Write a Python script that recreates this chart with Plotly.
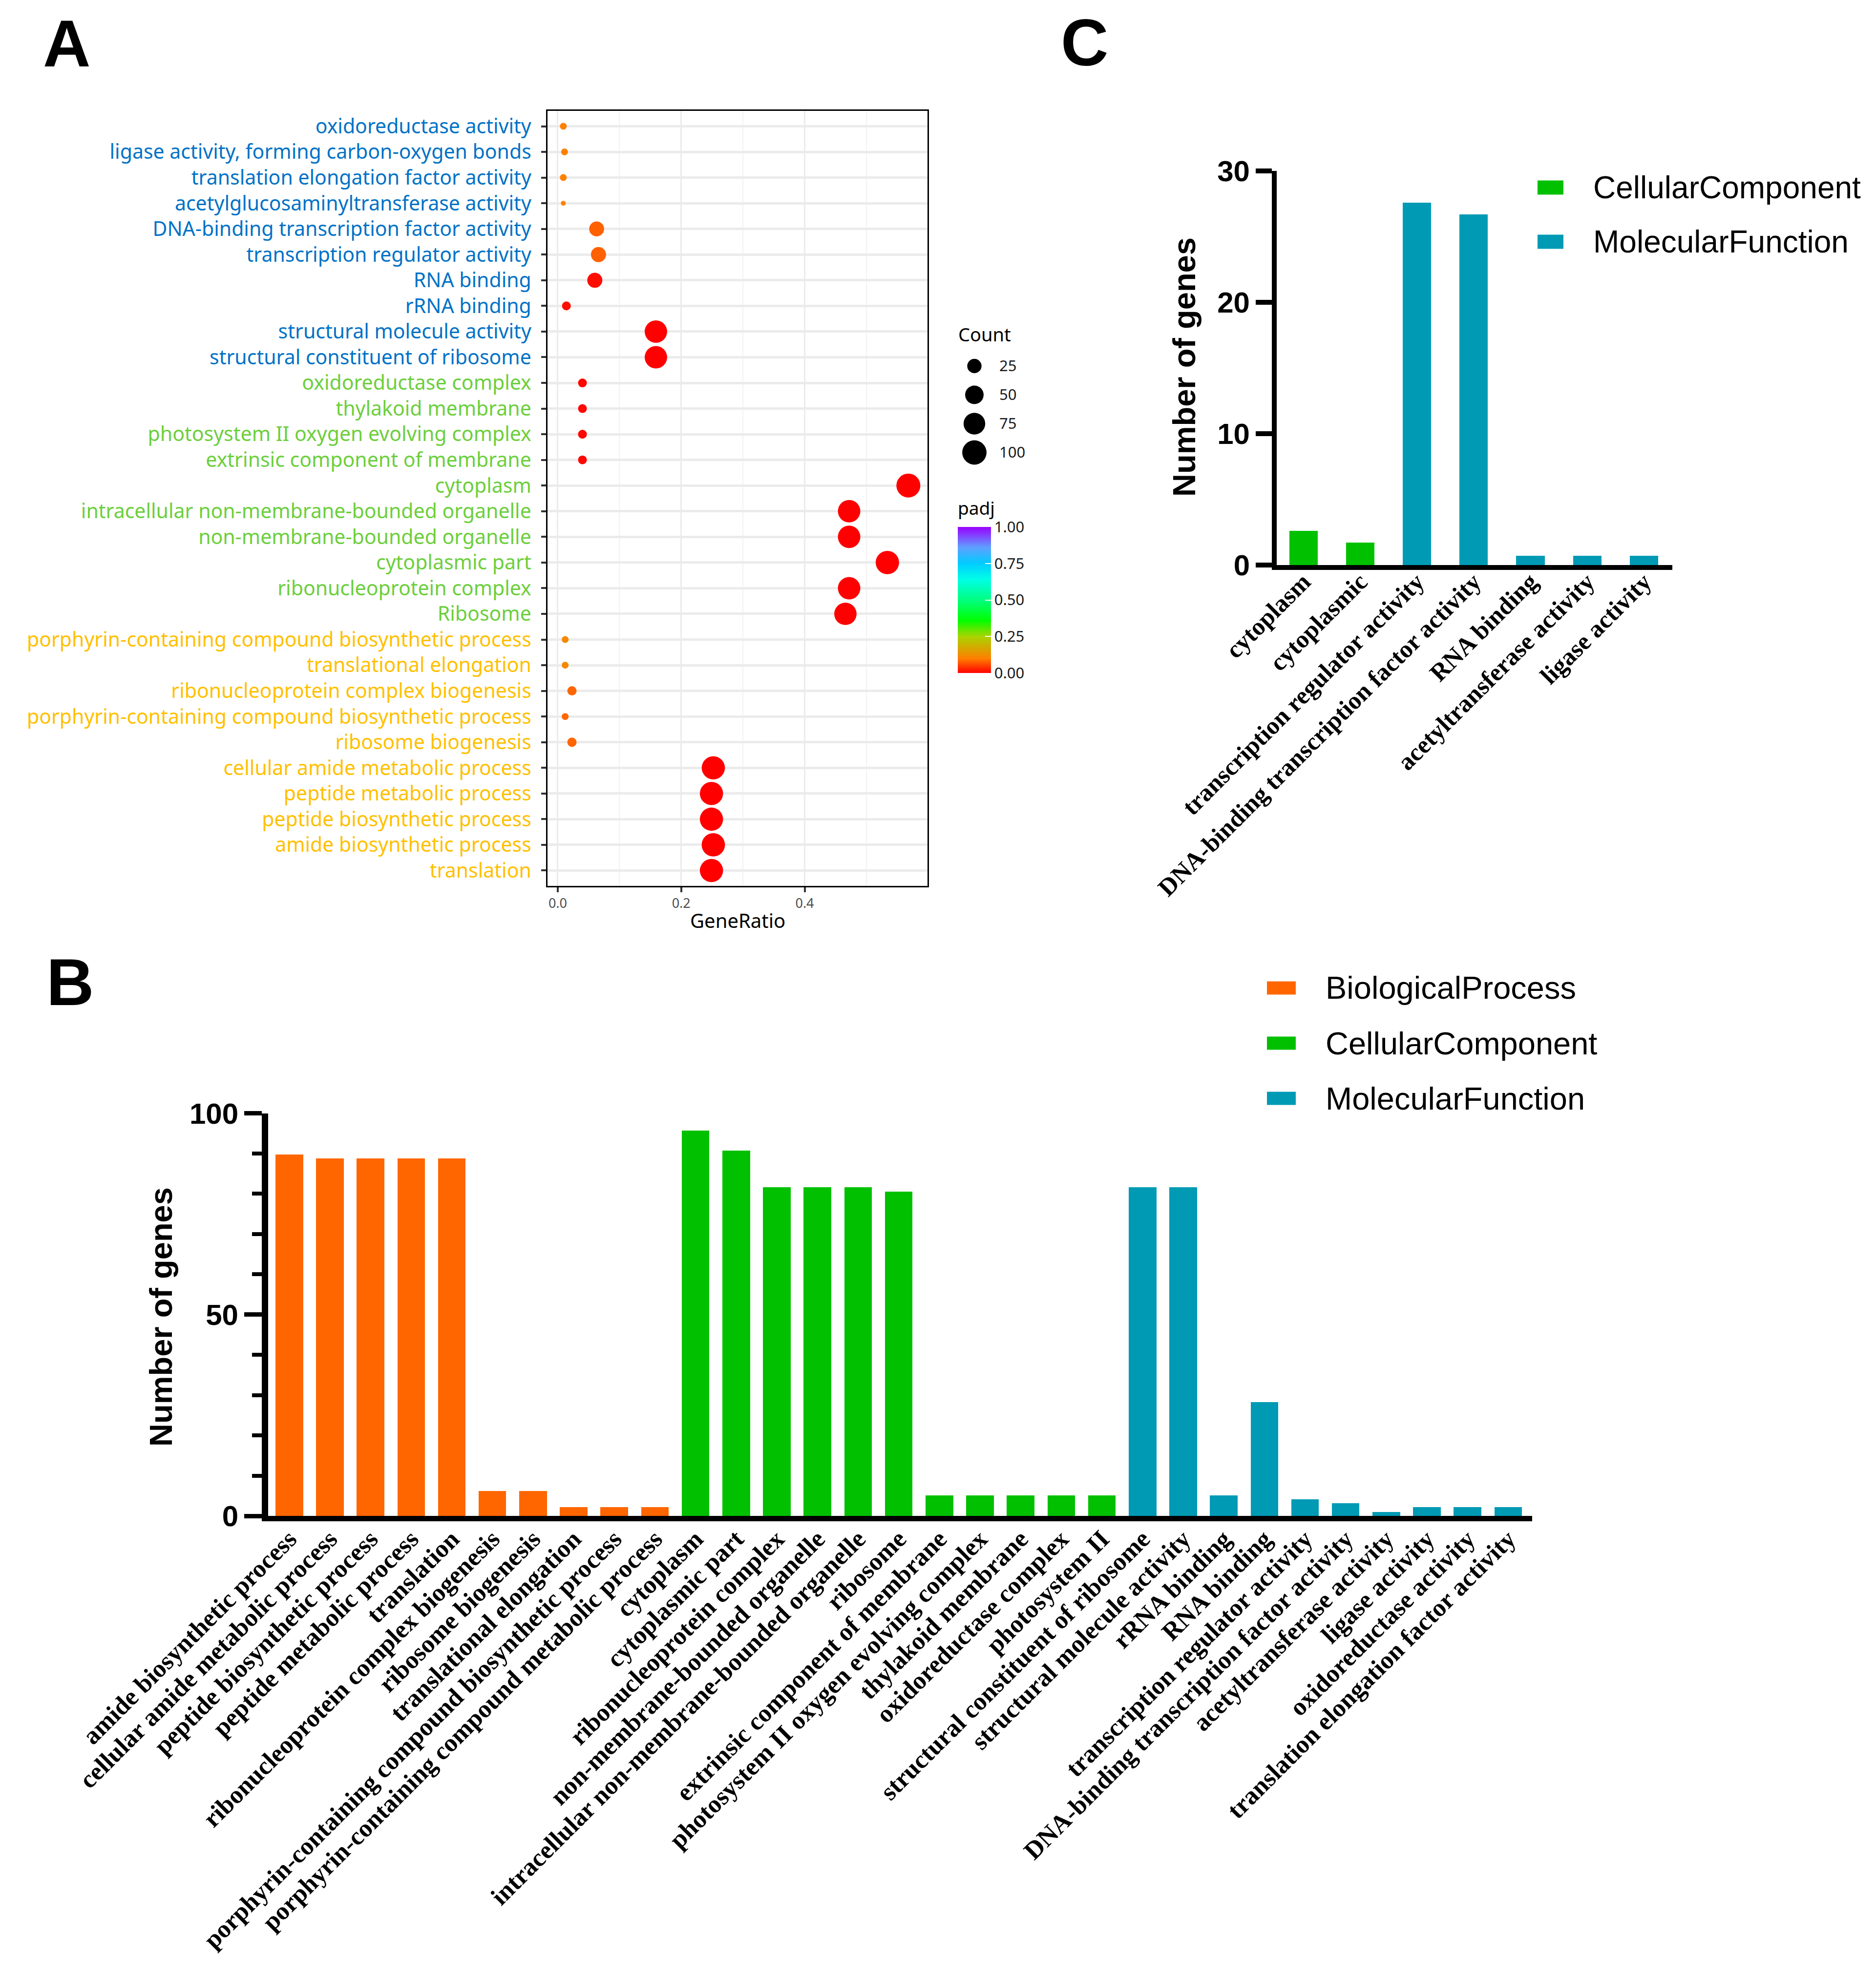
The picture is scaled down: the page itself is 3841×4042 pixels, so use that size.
import math
import plotly.graph_objects as go

W, H = 3841, 4042


def fx(px):
    return px / W


def fy(py):
    return 1 - py / H


# ---------------- Panel A : dot plot ----------------
a_terms = [
    "oxidoreductase activity",
    "ligase activity, forming carbon-oxygen bonds",
    "translation elongation factor activity",
    "acetylglucosaminyltransferase activity",
    "DNA-binding transcription factor activity",
    "transcription regulator activity",
    "RNA binding",
    "rRNA binding",
    "structural molecule activity",
    "structural constituent of ribosome",
    "oxidoreductase complex",
    "thylakoid membrane",
    "photosystem II oxygen evolving complex",
    "extrinsic component of membrane",
    "cytoplasm",
    "intracellular non-membrane-bounded organelle",
    "non-membrane-bounded organelle",
    "cytoplasmic part",
    "ribonucleoprotein complex",
    "Ribosome",
    "porphyrin-containing compound biosynthetic process",
    "translational elongation",
    "ribonucleoprotein complex biogenesis",
    "porphyrin-containing compound biosynthetic process",
    "ribosome biogenesis",
    "cellular amide metabolic process",
    "peptide metabolic process",
    "peptide biosynthetic process",
    "amide biosynthetic process",
    "translation",
]
a_ontology = ["MF"] * 10 + ["CC"] * 10 + ["BP"] * 10
a_gene_ratio = [0.009, 0.011, 0.009, 0.009, 0.063, 0.066, 0.060, 0.014, 0.159, 0.159,
                0.040, 0.040, 0.040, 0.040, 0.568, 0.472, 0.472, 0.534, 0.472, 0.466,
                0.012, 0.012, 0.023, 0.012, 0.023, 0.252, 0.249, 0.249, 0.252, 0.249]
a_count = [3, 3, 3, 2, 28, 29, 29, 6, 82, 82,
           6, 6, 6, 6, 96, 82, 82, 91, 82, 81,
           3, 3, 7, 3, 7, 89, 89, 89, 90, 89]
a_padj = [0.10, 0.10, 0.10, 0.10, 0.075, 0.075, 0.01, 0.01, 0.0, 0.0,
          0.005, 0.005, 0.005, 0.005, 0.0, 0.0, 0.0, 0.0, 0.0, 0.0,
          0.115, 0.115, 0.08, 0.08, 0.08, 0.0, 0.0, 0.0, 0.0, 0.0]
a_label_colors = {"MF": "#0072c6", "CC": "#6ccf3c", "BP": "#ffc000"}
count_legend = [25, 50, 75, 100]
padj_ticks = [0.0, 0.25, 0.5, 0.75, 1.0]
ratio_ticks = [0.0, 0.2, 0.4]

# ---------------- Panel B : all terms ----------------
b_terms = [
    "amide biosynthetic process",
    "cellular amide metabolic process",
    "peptide biosynthetic process",
    "peptide metabolic process",
    "translation",
    "ribonucleoprotein complex biogenesis",
    "ribosome biogenesis",
    "translational elongation",
    "porphyrin-containing compound biosynthetic process",
    "porphyrin-containing compound metabolic process",
    "cytoplasm",
    "cytoplasmic part",
    "ribonucleoprotein complex",
    "non-membrane-bounded organelle",
    "intracellular non-membrane-bounded organelle",
    "ribosome",
    "extrinsic component of membrane",
    "photosystem II oxygen evolving complex",
    "thylakoid membrane",
    "oxidoreductase complex",
    "photosystem II",
    "structural constituent of ribosome",
    "structural molecule activity",
    "rRNA binding",
    "RNA binding",
    "transcription regulator activity",
    "DNA-binding transcription factor activity",
    "acetyltransferase activity",
    "ligase activity",
    "oxidoreductase activity",
    "translation elongation factor activity",
]
b_ontology = (["BiologicalProcess"] * 10 + ["CellularComponent"] * 11
              + ["MolecularFunction"] * 10)
b_genes = [89.8, 88.8, 88.8, 88.8, 88.8, 6.3, 6.3, 2.2, 2.2, 2.2,
           95.8, 90.8, 81.7, 81.7, 81.7, 80.6, 5.2, 5.2, 5.2, 5.2, 5.2,
           81.7, 81.7, 5.2, 28.3, 4.2, 3.2, 1.0, 2.2, 2.2, 2.2]
b_ticks = [0, 50, 100]

# ---------------- Panel C ----------------
c_terms = [
    "cytoplasm",
    "cytoplasmic",
    "transcription regulator activity",
    "DNA-binding transcription factor activity",
    "RNA binding",
    "acetyltransferase activity",
    "ligase activity",
]
c_ontology = ["CellularComponent"] * 2 + ["MolecularFunction"] * 5
c_genes = [2.6, 1.7, 27.6, 26.7, 0.7, 0.7, 0.7]
c_ticks = [0, 10, 20, 30]

onto_colors = {
    "BiologicalProcess": "#ff6600",
    "CellularComponent": "#00c000",
    "MolecularFunction": "#009ab5",
}

padj_scale = [
    [0.0, "#ff0000"], [0.1, "#ff8000"], [0.25, "#a8d400"], [0.36, "#00ff00"],
    [0.5, "#00ff80"], [0.64, "#00ffe6"], [0.75, "#00ccff"], [0.86, "#5fa0ff"],
    [1.0, "#9900ff"],
]

C_MIN, C_MAX, D_MIN, D_MAX = 2, 96, 10, 49


def dot_size(c):
    return D_MIN + (D_MAX - D_MIN) * math.sqrt(max(c - C_MIN, 0) / (C_MAX - C_MIN))


SANS = "Liberation Sans, Arial, sans-serif"
WIDE = "Noto Sans, DejaVu Sans, sans-serif"
SERIF = "Liberation Serif, Times New Roman, serif"

fig = go.Figure()

# Panel A scatter
n_a = len(a_terms)
a_y = [n_a - 1 - i for i in range(n_a)]
fig.add_trace(go.Scatter(
    x=a_gene_ratio, y=a_y, mode="markers", xaxis="x", yaxis="y",
    showlegend=False,
    marker=dict(
        size=[dot_size(c) for c in a_count], sizemode="diameter", opacity=1,
        color=a_padj, colorscale=padj_scale, cmin=0, cmax=1,
        line=dict(width=0),
        colorbar=dict(
            x=fx(1953), xanchor="left", xref="paper", xpad=0,
            y=fy(1015), yanchor="top", yref="paper", ypad=0,
            len=355, lenmode="pixels", thickness=68, thicknessmode="pixels",
            outlinewidth=0,
            tickvals=padj_ticks, ticktext=[f"{v:.2f}" for v in padj_ticks],
            ticks="inside", tickcolor="white", ticklen=12, tickwidth=2,
            tickfont=dict(family=WIDE, size=31, color="#1a1a1a"),
            title=dict(text="padj", side="top",
                       font=dict(family=WIDE, size=37, color="black")),
        ),
    ),
))

# Count size legend (hidden helper axes)
fig.add_trace(go.Scatter(
    x=[0] * len(count_legend), y=list(range(len(count_legend))),
    mode="markers", xaxis="x4", yaxis="y4", showlegend=False,
    marker=dict(size=[dot_size(c) for c in count_legend], sizemode="diameter",
                opacity=1, color="black", line=dict(width=0)),
))

# Panel B bars
b_x = list(range(len(b_terms)))
for onto in onto_colors:
    idx = [i for i, o in enumerate(b_ontology) if o == onto]
    fig.add_trace(go.Bar(
        x=[b_x[i] for i in idx], y=[b_genes[i] for i in idx],
        xaxis="x2", yaxis="y2", width=0.68, name=onto, showlegend=False,
        marker=dict(color=onto_colors[onto], line=dict(width=0)),
    ))

# Panel C bars
c_x = list(range(len(c_terms)))
for onto in ["CellularComponent", "MolecularFunction"]:
    idx = [i for i, o in enumerate(c_ontology) if o == onto]
    fig.add_trace(go.Bar(
        x=[c_x[i] for i in idx], y=[c_genes[i] for i in idx],
        xaxis="x3", yaxis="y3", width=0.5, name=onto, showlegend=False,
        marker=dict(color=onto_colors[onto], line=dict(width=0)),
    ))

a_ticktext = [f'<span style="color:{a_label_colors[o]}">{t}</span>'
              for t, o in zip(a_terms, a_ontology)]

layout = dict(
    width=W, height=H, margin=dict(l=0, r=0, t=0, b=0, autoexpand=False),
    paper_bgcolor="white", plot_bgcolor="white", bargap=0,
    font=dict(family=SANS, color="black"),
    # ---- Panel A axes
    xaxis=dict(
        domain=[fx(1113), fx(1891)], range=[-0.0166, 0.599], anchor="y",
        automargin=False,
        showline=True, mirror=True, linecolor="black", linewidth=3,
        ticks="outside", ticklen=10, tickwidth=4, tickcolor="#333333",
        tickvals=ratio_ticks, ticktext=[f"{v:.1f}" for v in ratio_ticks],
        tickfont=dict(family=WIDE, size=27, color="#4d4d4d"),
        showgrid=True, gridcolor="#ebebeb", gridwidth=3, zeroline=False,
        minor=dict(tickvals=[0.1, 0.3, 0.5], showgrid=True, gridcolor="#f2f2f2",
                   gridwidth=2, ticks=""),
    ),
    yaxis=dict(
        domain=[fy(1806), fy(219)], range=[-0.6, n_a - 0.4], anchor="x",
        automargin=False,
        showline=True, mirror=True, linecolor="black", linewidth=3,
        ticks="outside", ticklen=10, tickwidth=4, tickcolor="#333333",
        tickvals=a_y, ticktext=a_ticktext,
        tickfont=dict(family=WIDE, size=41), ticklabelstandoff=12,
        showgrid=True, gridcolor="#ebebeb", gridwidth=5, zeroline=False,
    ),
    # ---- Count legend helper axes
    xaxis4=dict(domain=[fx(1955), fx(2019)], range=[-1, 1], anchor="y4",
                visible=False, automargin=False),
    yaxis4=dict(domain=[fy(948), fy(712)], range=[len(count_legend) - 0.5, -0.5],
                anchor="x4", side="right", showline=False, showgrid=False,
                zeroline=False, ticks="", automargin=False,
                tickvals=list(range(len(count_legend))),
                ticktext=[str(c) for c in count_legend],
                tickfont=dict(family=WIDE, size=31, color="#1a1a1a"),
                ticklabelstandoff=18),
    # ---- Panel B axes
    xaxis2=dict(
        domain=[fx(541), fx(3129)], range=[-0.52, len(b_terms) - 0.41], anchor="y2",
        automargin=False,
        showline=True, linecolor="black", linewidth=11, ticks="",
        tickmode="array", tickvals=b_x, ticktext=b_terms, tickangle=-45,
        tickfont=dict(family=SERIF, size=52, color="black", weight="bold"),
        ticklabelstandoff=-15,
        showgrid=False, zeroline=False,
    ),
    yaxis2=dict(
        domain=[fy(3096), fy(2271.5)], range=[0, 100], anchor="x2",
        automargin=False,
        showline=True, linecolor="black", linewidth=13,
        ticks="outside", ticklen=36, tickwidth=9, tickcolor="black",
        tickvals=b_ticks, ticktext=[str(v) for v in b_ticks],
        tickfont=dict(family=SANS, size=60, color="black", weight="bold"),
        minor=dict(tick0=0, dtick=10, ticks="outside", ticklen=20, tickwidth=8,
                   tickcolor="black", showgrid=False),
        showgrid=False, zeroline=False,
    ),
    # ---- Panel C axes
    xaxis3=dict(
        domain=[fx(2606), fx(3416)], range=[-0.47, len(c_terms) - 0.5], anchor="y3",
        automargin=False,
        showline=True, linecolor="black", linewidth=10, ticks="",
        tickmode="array", tickvals=c_x, ticktext=c_terms, tickangle=-45,
        tickfont=dict(family=SERIF, size=51, color="black", weight="bold"),
        ticklabelstandoff=-26,
        showgrid=False, zeroline=False,
    ),
    yaxis3=dict(
        domain=[fy(1149), fy(342)], range=[0, 30], anchor="x3",
        automargin=False,
        showline=True, linecolor="black", linewidth=10,
        ticks="outside", ticklen=33, tickwidth=10, tickcolor="black",
        tickvals=c_ticks, ticktext=[str(v) for v in c_ticks],
        tickfont=dict(family=SANS, size=60, color="black", weight="bold"),
        showgrid=False, zeroline=False,
    ),
)

annotations = []


def ann(text, x, y, size, family=SANS, weight="normal", xanchor="center",
        yanchor="middle", angle=0, color="black"):
    annotations.append(dict(
        text=text, x=fx(x), y=fy(y), xref="paper", yref="paper",
        xanchor=xanchor, yanchor=yanchor, showarrow=False, textangle=angle,
        font=dict(family=family, size=size, color=color, weight=weight),
    ))


# panel letters
ann("A", 129, 4, 135, weight="bold", yanchor="top")
ann("B", 136, 2003, 135, weight="bold")
ann("C", 2213, 2, 135, weight="bold", yanchor="top")
# axis titles
ann("GeneRatio", 1502, 1876, 40, family=WIDE)
ann("Number of genes", 321, 2689, 65, weight="bold", angle=-90)
ann("Number of genes", 2416, 744, 65, weight="bold", angle=-90)
# Count legend title
ann("Count", 1952, 676, 38, family=WIDE, xanchor="left")

shapes = []


def legend_block(names, sw_x0, sw_x1, y0, dy, sw_h, text_x, size):
    for k, name in enumerate(names):
        yc = y0 + k * dy
        shapes.append(dict(type="rect", xref="paper", yref="paper",
                           x0=fx(sw_x0), x1=fx(sw_x1),
                           y0=fy(yc + sw_h / 2), y1=fy(yc - sw_h / 2),
                           fillcolor=onto_colors[name], line=dict(width=0)))
        ann(name, text_x, yc, size, xanchor="left")


legend_block(list(onto_colors), 2586, 2645, 2015, 113, 27, 2704, 65)
legend_block(["CellularComponent", "MolecularFunction"], 3140, 3193, 376, 111,
             29, 3252, 64)

layout["annotations"] = annotations
layout["shapes"] = shapes
fig.update_layout(**layout)

fig.write_html("out.html")
